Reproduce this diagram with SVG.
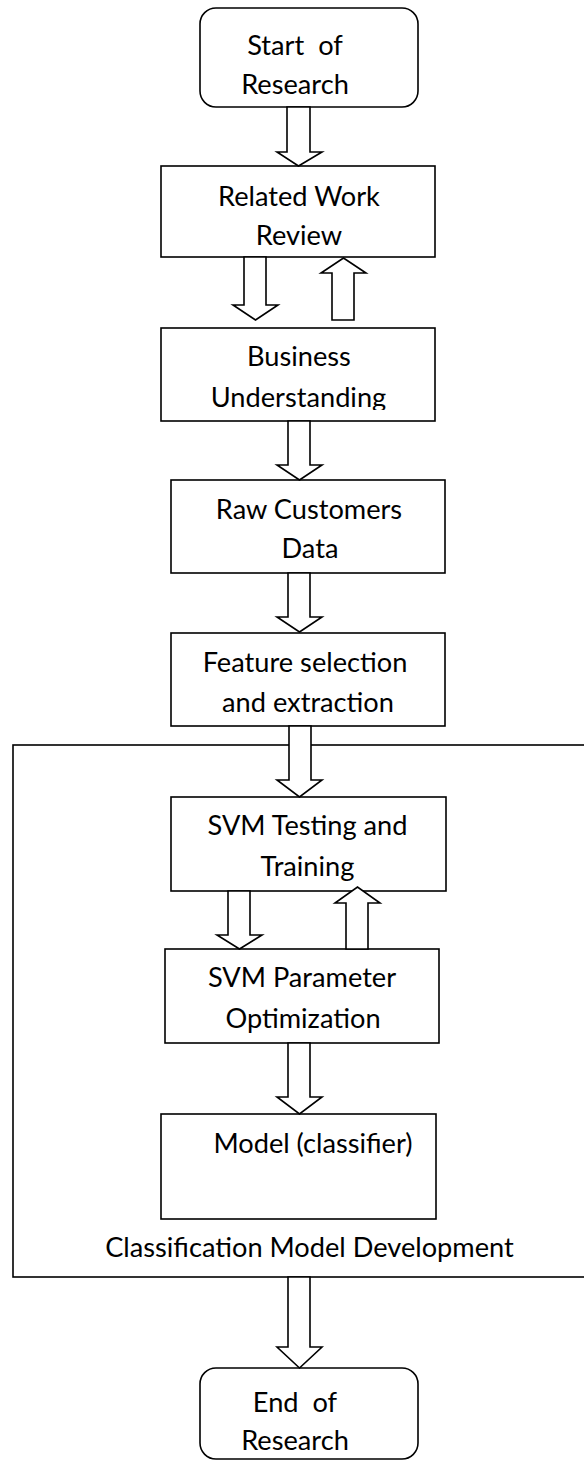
<svg xmlns="http://www.w3.org/2000/svg" width="584" height="1463" viewBox="0 0 584 1463">
<style>
.box{fill:#fff;stroke:#000;stroke-width:1.6}
.cont{fill:none;stroke:#000;stroke-width:1.6}
.arr{fill:#fff;stroke:#000;stroke-width:1.6;stroke-linejoin:miter}
.t{font-family:Lato,"Liberation Sans",sans-serif;font-size:27.2px;fill:#000;text-anchor:middle;white-space:pre}
</style>
<defs>
<clipPath id="clipBiz"><rect x="161" y="328" width="274" height="82"/></clipPath>
<clipPath id="clipSvm"><rect x="171" y="797" width="275" height="85"/></clipPath>
</defs>
<g id="container">
<rect class="cont" x="13" y="745" width="590" height="532"/>
<text class="t" x="309.5" y="1257">Classification Model Development</text>
</g>
<g id="start">
<rect class="box" x="200" y="8" width="218" height="99" rx="16"/>
<text class="t" x="295" y="55">Start  of</text>
<text class="t" x="295" y="94">Research</text>
</g>
<g id="related">
<rect class="box" x="161" y="166" width="274" height="91"/>
<text class="t" x="299" y="206">Related Work</text>
<text class="t" x="299" y="245">Review</text>
</g>
<g id="business">
<rect class="box" x="161" y="328" width="274" height="93"/>
<text class="t" x="299" y="366">Business</text>
<text class="t" x="298.5" y="407" clip-path="url(#clipBiz)">Understanding</text>
</g>
<g id="raw">
<rect class="box" x="171" y="480" width="274" height="93"/>
<text class="t" x="309" y="519">Raw Customers</text>
<text class="t" x="310" y="558">Data</text>
</g>
<g id="feature">
<rect class="box" x="171" y="633" width="274" height="93"/>
<text class="t" x="305" y="672">Feature selection</text>
<text class="t" x="308" y="712">and extraction</text>
</g>
<g id="svmtest">
<rect class="box" x="171" y="797" width="275" height="94"/>
<text class="t" x="307.5" y="835">SVM Testing and</text>
<text class="t" x="307.5" y="876" clip-path="url(#clipSvm)">Training</text>
</g>
<g id="param">
<rect class="box" x="165" y="949" width="274" height="94"/>
<text class="t" x="302" y="987">SVM Parameter</text>
<text class="t" x="303" y="1028">Optimization</text>
</g>
<g id="model">
<rect class="box" x="161" y="1114" width="275" height="105"/>
<text class="t" x="313" y="1153">Model (classifier)</text>
</g>
<g id="end">
<rect class="box" x="200" y="1368" width="218" height="91" rx="16"/>
<text class="t" x="295" y="1412">End  of</text>
<text class="t" x="295" y="1450">Research</text>
</g>
<g id="connectors">
<polygon class="arr" points="287,107 310,107 310,152 322,152 298.5,166 277,152 287,152"/>
<polygon class="arr" points="244,257 266,257 266,305 278,305 255.5,320 233,305 244,305"/>
<polygon class="arr" points="332,320 354,320 354,273 366,273 343.5,258 321,273 332,273"/>
<polygon class="arr" points="288,421 310,421 310,465 322,465 299.5,480 277,465 288,465"/>
<polygon class="arr" points="288,573 310,573 310,617 322,617 299.5,632 277,617 288,617"/>
<polygon class="arr" points="289,726 311,726 311,780 322,780 299.5,797 277,780 289,780"/>
<polygon class="arr" points="228,891 250,891 250,935 262,935 239.5,949 217,935 228,935"/>
<polygon class="arr" points="346,949 368,949 368,903 380,903 357.5,887 335,903 346,903"/>
<polygon class="arr" points="288,1043 310,1043 310,1097 322,1097 299.5,1114 277,1097 288,1097"/>
<polygon class="arr" points="288,1277 310,1277 310,1347 322,1347 299.5,1368 277,1347 288,1347"/>
</g>
</svg>
